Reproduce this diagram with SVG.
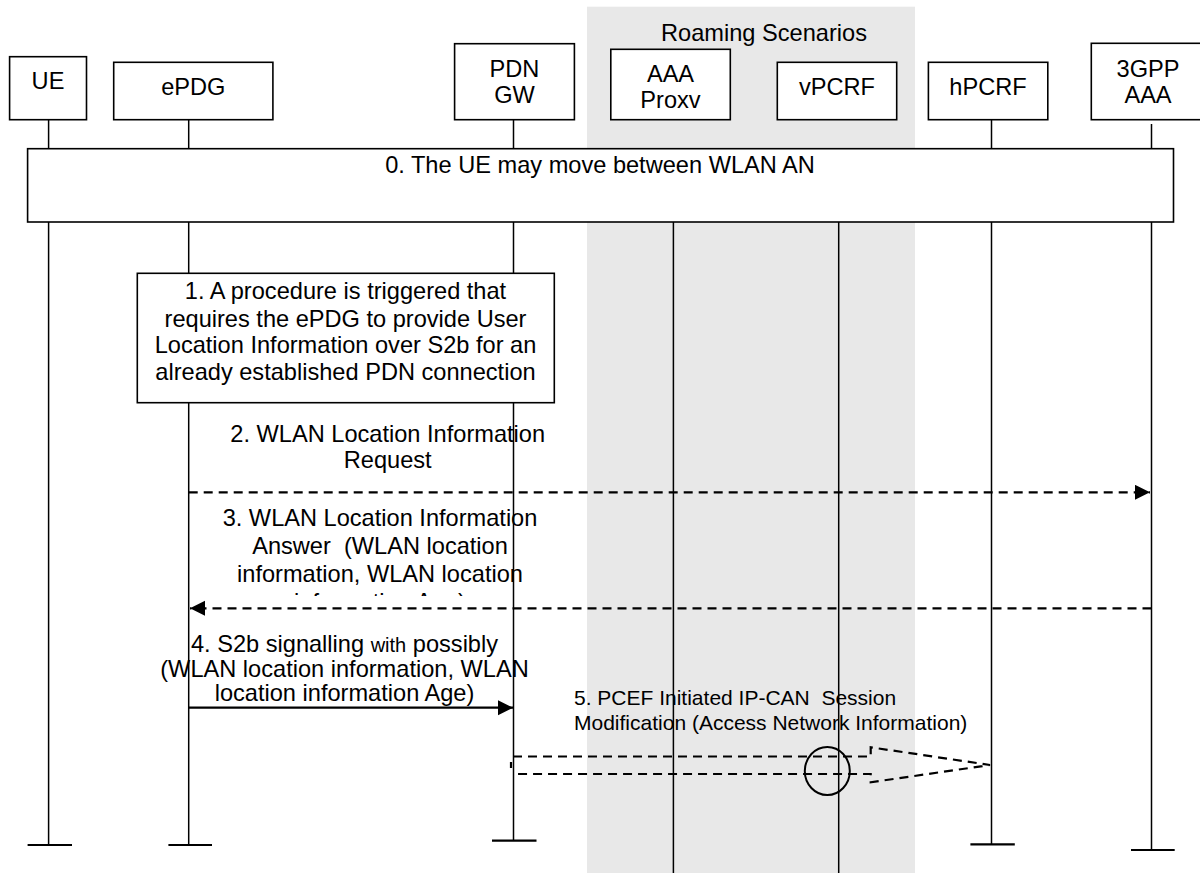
<svg xmlns="http://www.w3.org/2000/svg" width="1200" height="873" viewBox="0 0 1200 873">
<style>
text{font-family:"Liberation Sans",Arial,sans-serif;font-size:23.6px;fill:#000}
.c{text-anchor:middle}
.box{fill:#fff;stroke:#000;stroke-width:1.6}
.life{stroke:#000;stroke-width:1.5;fill:none}
.cap{stroke:#000;stroke-width:2.2}
.dash{stroke:#000;stroke-width:2.2;stroke-dasharray:9 6;fill:none}
.solid{stroke:#000;stroke-width:2.2;fill:none}
.s5{font-size:21px}
</style>
<defs>
<marker id="ah" markerUnits="userSpaceOnUse" markerWidth="16" markerHeight="16" refX="15" refY="7.5" orient="auto">
<polygon points="0,0 15,7.5 0,15" fill="#000"/>
</marker>
<clipPath id="clip3"><rect x="0" y="500" width="1200" height="96"/></clipPath>
</defs>
<rect x="587" y="6.7" width="328" height="866.3" fill="#e8e8e8"/>
<text class="c" x="764" y="41">Roaming Scenarios</text>
<g id="lifelines">
<line class="life" x1="48.6" y1="119.7" x2="48.6" y2="845"/>
<line class="life" x1="188.7" y1="119.7" x2="188.7" y2="845"/>
<line class="life" x1="513.5" y1="115" x2="513.5" y2="840.7"/>
<line class="life" x1="673.4" y1="222" x2="673.4" y2="873"/>
<line class="life" x1="838.7" y1="222" x2="838.7" y2="873"/>
<line class="life" x1="991.5" y1="118" x2="991.5" y2="844.3"/>
<line class="life" x1="1151.5" y1="124" x2="1151.5" y2="850"/>
<line class="cap" x1="27.6" y1="845" x2="72" y2="845"/>
<line class="cap" x1="168.4" y1="845" x2="212" y2="845"/>
<line class="cap" x1="492" y1="840.7" x2="536.5" y2="840.7"/>
<line class="cap" x1="970.4" y1="844.3" x2="1014.8" y2="844.3"/>
<line class="cap" x1="1131" y1="850" x2="1174.7" y2="850"/>
</g>
<g id="UE"><rect class="box" x="9.6" y="56.7" width="76.9" height="63"/><text class="c" x="48" y="89">UE</text></g>
<g id="ePDG"><rect class="box" x="113.7" y="62.3" width="159.2" height="57.4"/><text class="c" x="193.3" y="95">ePDG</text></g>
<g id="PDNGW"><rect class="box" x="454.6" y="43.7" width="119.8" height="76"/><text class="c" x="514.5" y="77">PDN</text><text class="c" x="514.5" y="103">GW</text></g>
<g id="AAAProxy"><rect class="box" x="610.8" y="49.3" width="119.5" height="70.4"/><text class="c" x="670.5" y="82">AAA</text><text class="c" x="670.5" y="108">Proxv</text></g>
<g id="vPCRF"><rect class="box" x="777.3" y="62.3" width="119.4" height="57.4"/><text class="c" x="837" y="95">vPCRF</text></g>
<g id="hPCRF"><rect class="box" x="928.4" y="62.3" width="119.4" height="57.4"/><text class="c" x="988" y="95">hPCRF</text></g>
<g id="AAA3GPP"><rect class="box" x="1091.3" y="43.3" width="120" height="76.4"/><text class="c" x="1148" y="77">3GPP</text><text class="c" x="1148" y="103">AAA</text></g>
<g id="step0"><rect class="box" x="27.6" y="148.7" width="1145.9" height="73.3"/><text class="c" x="600" y="173">0. The UE may move between WLAN AN</text></g>
<g id="step1"><rect class="box" x="137.3" y="273.3" width="417" height="129.4"/>
<text class="c" x="345.5" y="299.3">1. A procedure is triggered that</text>
<text class="c" x="345.5" y="326.7">requires the ePDG to provide User</text>
<text class="c" x="345.5" y="353.3">Location Information over S2b for an</text>
<text class="c" x="345.5" y="380">already established PDN connection</text></g>
<g id="connectors">
<line class="dash" x1="188.7" y1="492.3" x2="1150" y2="492.3" marker-end="url(#ah)"/>
<line class="dash" x1="1151.5" y1="608.3" x2="190" y2="608.3" marker-end="url(#ah)"/>
<line class="solid" x1="188.7" y1="707.7" x2="513" y2="707.7" marker-end="url(#ah)"/>
<polyline class="dash" points="513,756.5 870.7,756.5 870.7,747.3 990,765 870.7,782.3 870.7,774 513,774"/>
<line x1="511" y1="762" x2="511" y2="768" stroke="#000" stroke-width="2.2"/>
<ellipse cx="827.3" cy="771" rx="22.5" ry="24" fill="none" stroke="#000" stroke-width="2"/>
</g>
<g id="labels">
<text class="c" x="387.7" y="441.7">2. WLAN Location Information</text>
<text class="c" x="387.7" y="468.3">Request</text>
<g clip-path="url(#clip3)">
<text class="c" x="380" y="526">3. WLAN Location Information</text>
<text class="c" x="380" y="554.3" xml:space="preserve">Answer  (WLAN location</text>
<text class="c" x="380" y="582.3">information, WLAN location</text>
<text class="c" x="380" y="610.3">information Age)</text>
</g>
<text class="c" x="344.5" y="651.7">4. S2b signalling <tspan font-size="20">with</tspan> possibly</text>
<text class="c" x="344.5" y="676.7">(WLAN location information, WLAN</text>
<text class="c" x="344.5" y="701">location information Age)</text>
<text class="s5" x="574" y="705" xml:space="preserve">5. PCEF Initiated IP-CAN  Session</text>
<text class="s5" x="574" y="730">Modification (Access Network Information)</text>
</g>
</svg>
